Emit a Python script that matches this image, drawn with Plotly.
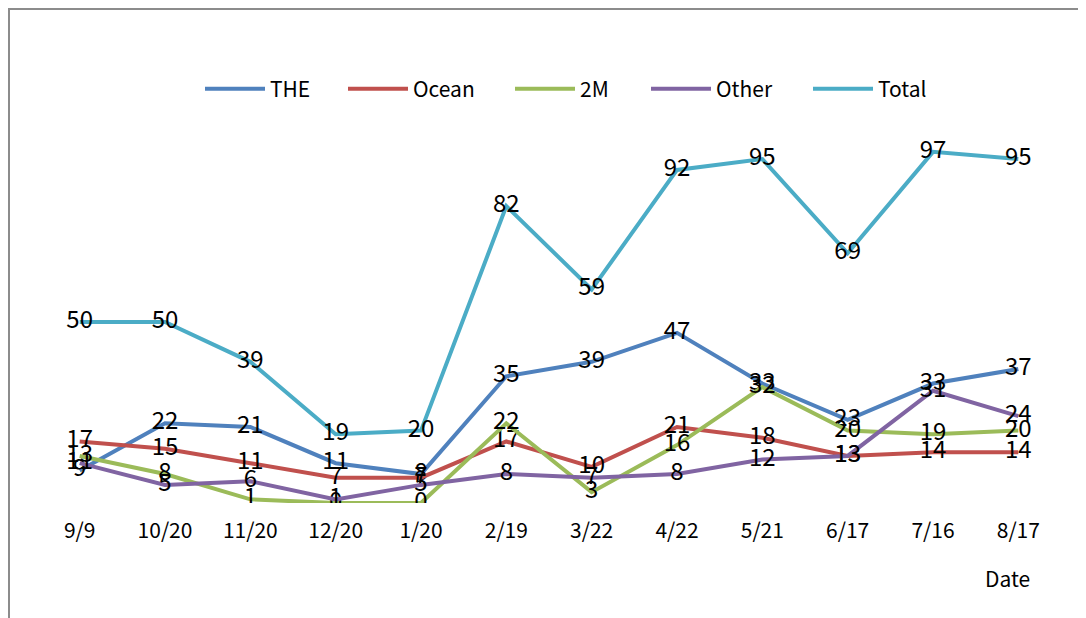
import plotly.graph_objects as go

dates = ["9/9", "10/20", "11/20", "12/20", "1/20", "2/19", "3/22", "4/22", "5/21", "6/17", "7/16", "8/17"]
the = [9, 22, 21, 11, 8, 35, 39, 47, 33, 23, 33, 37]
ocean = [17, 15, 11, 7, 7, 17, 10, 21, 18, 13, 14, 14]
twom = [13, 8, 1, 0, 0, 22, 3, 16, 32, 20, 19, 20]
other = [11, 5, 6, 1, 5, 8, 7, 8, 12, 13, 31, 24]
total = [50, 50, 39, 19, 20, 82, 59, 92, 95, 69, 97, 95]

series = [
    ("THE", the, "#4F81BD"),
    ("Ocean", ocean, "#C0504D"),
    ("2M", twom, "#9BBB59"),
    ("Other", other, "#8064A2"),
    ("Total", total, "#4BACC6"),
]

FONT = "Noto Sans CJK SC"
W, H = 1078, 610
ml, mr, mt, mb = 29, 25, 133, 115
pw = W - ml - mr
ph = H - mt - mb

# legend text start positions (page px) as seen in the reference
legend_text_x = [270, 413, 580, 716, 878]

fig = go.Figure()
legend_layouts = {}
for i, (name, vals, col) in enumerate(series):
    lname = "legend" if i == 0 else f"legend{i + 1}"
    fig.add_trace(go.Scatter(
        x=dates, y=vals, name=name, mode="lines+text",
        line=dict(color=col, width=4),
        text=[str(v) for v in vals], textposition="middle center",
        textfont=dict(family=FONT, size=24, color="#000000"),
        legend=lname,
    ))
    left = legend_text_x[i] - 8 - 70
    legend_layouts[lname] = dict(
        orientation="h", x=(left - ml) / pw, xanchor="left",
        y=(H - mb - 81) / ph, yanchor="middle",
        font=dict(family=FONT, size=21), itemwidth=60,
        bgcolor="rgba(0,0,0,0)")

fig.update_layout(
    width=W, height=H,
    margin=dict(l=ml, r=mr, t=mt, b=mb, pad=0),
    paper_bgcolor="white", plot_bgcolor="white",
    font=dict(family=FONT, size=21, color="#000000"),
    showlegend=True,
    xaxis=dict(type="category", range=[-0.5, 11.5], showgrid=False, zeroline=False,
               showline=False, ticks="", tickfont=dict(family=FONT, size=21),
               ticklabelstandoff=13),
    yaxis=dict(range=[0, 100], visible=False, showgrid=False, zeroline=False),
    **legend_layouts,
)

fig.add_shape(type="rect", xref="paper", yref="paper",
              x0=(1 - ml) / pw, x1=(W + 20 - ml) / pw,
              y0=-(H + 20 - (H - mb)) / ph, y1=((H - mb) - 1) / ph,
              line=dict(color="#8C8C8C", width=2), fillcolor="rgba(0,0,0,0)", layer="below")
fig.add_annotation(text="Date", xref="paper", yref="paper",
                   x=(999 - ml) / pw, y=-(570 - (H - mb)) / ph,
                   xanchor="center", yanchor="middle", showarrow=False,
                   font=dict(family=FONT, size=21, color="#000000"))

fig.write_html("out.html")
